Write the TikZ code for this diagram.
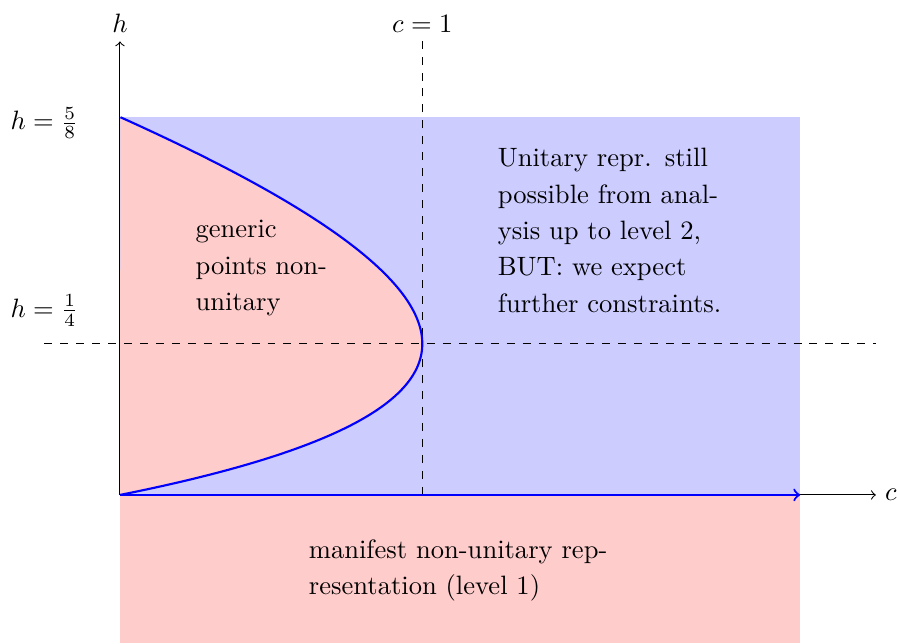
\documentclass[tikz,border=0pt]{standalone}
\usepackage{amsmath}
\usepackage{tikz}

\begin{document}
\begin{tikzpicture}[scale=1,
    region/.style={text width=#1, align=left, inner sep=0pt, font=\fontsize{10}{13.7}\selectfont},
    kac/.style={blue, thick}]

        \useasboundingbox (-1.587,-1.96) rectangle (10.28,6.548);

        % Regioes
        \fill[blue!20] (0,0) rectangle (9,5);
        \fill[red!20] (0,0) rectangle (9,-1.96);
        \fill[red!20] plot[domain=0:0.625, samples=120] ({4*(10*\x-16*\x*\x)/(2*\x+1)}, {8*\x}) -- cycle;

        % Eixos
        \coordinate (O) at (0,0);
        \coordinate (hmax) at (0,6);
        \coordinate (cmax) at (10,0);
        \draw[->] (O) -- (hmax) node[above] (hlab) {$h$};
        \draw[->] (O) -- (cmax) node[right] (clab) {$c$};

        % Linhas tracejadas
        \coordinate (c1a) at (4,0);
        \coordinate (c1b) at (4,6);
        \coordinate (qa) at (-1,2);
        \coordinate (qb) at (10,2);
        \draw[dashed] (c1a) -- (c1b) node[above] (c1) {$c=1$};
        \draw[dashed] (qa) -- (qb);

        % Curva de nivel 2
        \draw[kac] plot[domain=0:0.625, samples=120] ({4*(10*\x-16*\x*\x)/(2*\x+1)}, {8*\x});
        \coordinate (cend) at (9,0);
        \draw[kac, ->] (O) -- (cend);

        % Rotulos
        \node (h58) at (-1,4.92) {$h=\frac{5}{8}$};
        \node (h14) at (-1,2.44) {$h=\frac{1}{4}$};
        \node[region=2cm] (gen) at (2,3) {generic points non-unitary};
        \node[region=3cm] (uni) at (6.5,3.5) {Unitary repr. still possible from analysis up to level 2, BUT: we expect further constraints.};
        \node[region=4cm] (man) at (4.5,-1) {manifest non-unitary representation (level 1)};

    \end{tikzpicture}
\end{document}
